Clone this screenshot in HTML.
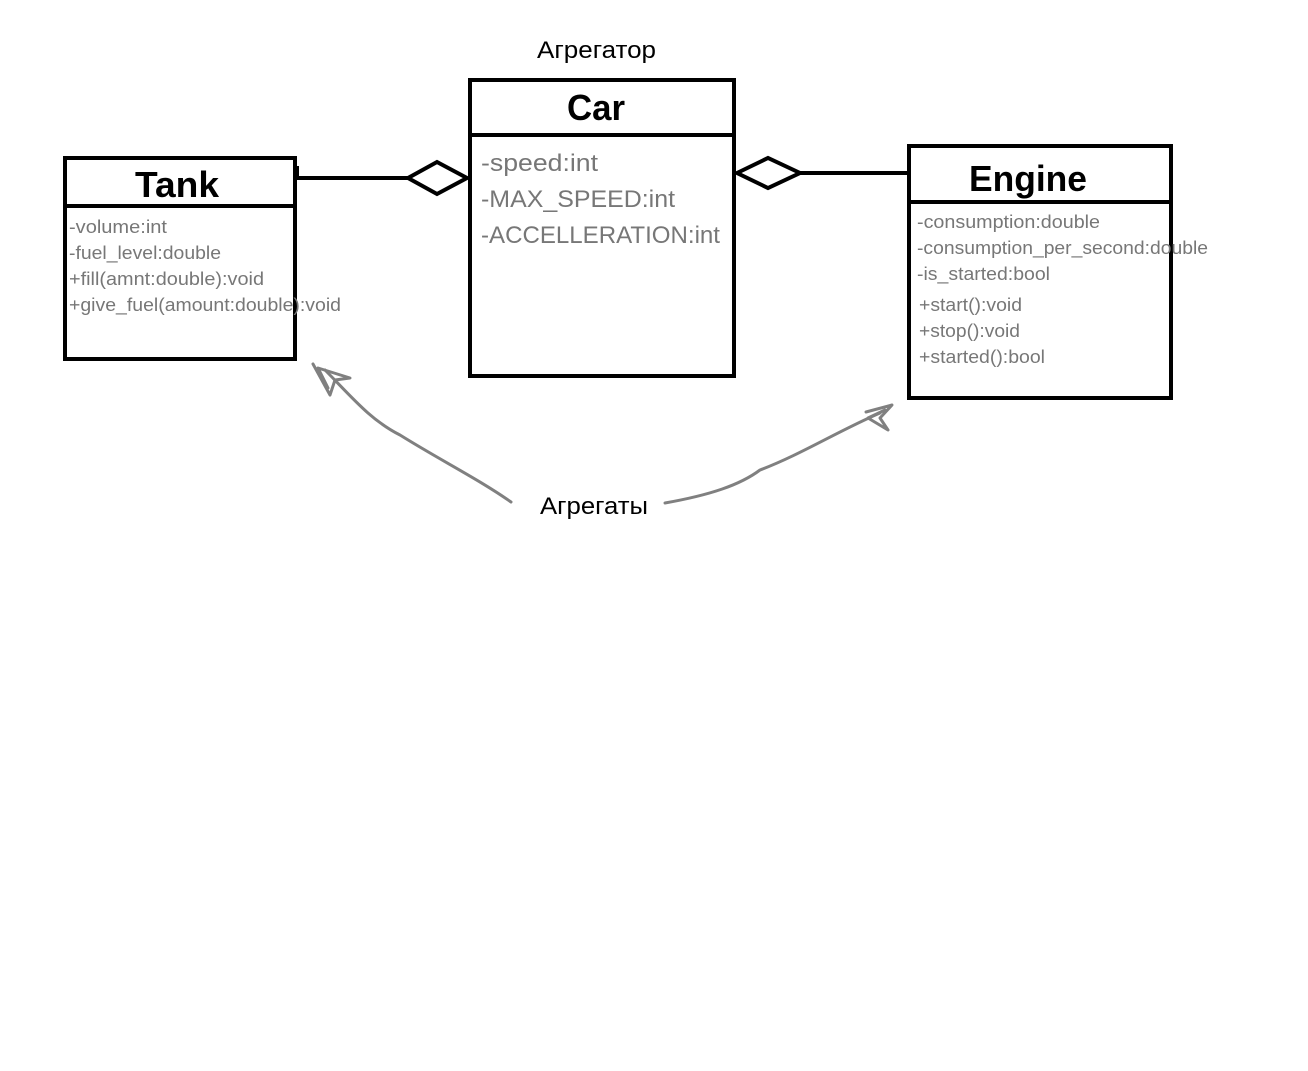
<!DOCTYPE html>
<html><head><meta charset="utf-8"><style>
html,body{margin:0;padding:0;background:#fff;}
svg{display:block}
.t{font-family:"Liberation Sans",sans-serif;font-weight:bold;fill:#000;}
.a{font-family:"Liberation Sans",sans-serif;fill:#777;font-size:18px;}
.c{font-family:"Liberation Sans",sans-serif;fill:#777;font-size:24px;}
.l{font-family:"Liberation Sans","Noto Sans CJK SC",sans-serif;fill:#000;font-size:24px;}
</style></head><body>
<svg width="1308" height="1071" viewBox="0 0 1308 1071" xmlns="http://www.w3.org/2000/svg">
<rect x="0" y="0" width="1308" height="1071" fill="#fff"/>
<g fill="none" stroke="#000" stroke-width="4">
<rect x="65" y="158" width="230" height="201"/>
<line x1="65" y1="206" x2="295" y2="206"/>
<rect x="470" y="80" width="264" height="296"/>
<line x1="470" y1="135" x2="734" y2="135"/>
<rect x="909" y="146" width="262" height="252"/>
<line x1="909" y1="202" x2="1171" y2="202"/>
<line x1="295" y1="178" x2="408" y2="178"/>
<polygon points="408,178 437,162 467,178 437,194"/>
<line x1="800" y1="173" x2="909" y2="173"/>
<polygon points="737,173 768,158 800,173 768,188"/>
<line x1="297" y1="166" x2="297" y2="180"/>
</g>
<text class="t" x="135" y="197" font-size="36" textLength="84" lengthAdjust="spacingAndGlyphs">Tank</text>
<text class="t" x="567" y="120" font-size="36" textLength="58" lengthAdjust="spacingAndGlyphs">Car</text>
<text class="t" x="969" y="191" font-size="36" textLength="118" lengthAdjust="spacingAndGlyphs">Engine</text>
<text class="a" x="69" y="233" textLength="98" lengthAdjust="spacingAndGlyphs">-volume:int</text>
<text class="a" x="69" y="259" textLength="152" lengthAdjust="spacingAndGlyphs">-fuel_level:double</text>
<text class="a" x="69" y="285" textLength="195" lengthAdjust="spacingAndGlyphs">+fill(amnt:double):void</text>
<text class="a" x="69" y="311" textLength="272" lengthAdjust="spacingAndGlyphs">+give_fuel(amount:double):void</text>
<text class="c" x="481" y="171" textLength="117" lengthAdjust="spacingAndGlyphs">-speed:int</text>
<text class="c" x="481" y="207" textLength="194" lengthAdjust="spacingAndGlyphs">-MAX_SPEED:int</text>
<text class="c" x="481" y="243" textLength="239" lengthAdjust="spacingAndGlyphs">-ACCELLERATION:int</text>
<text class="a" x="917" y="228" textLength="183" lengthAdjust="spacingAndGlyphs">-consumption:double</text>
<text class="a" x="917" y="254" textLength="291" lengthAdjust="spacingAndGlyphs">-consumption_per_second:double</text>
<text class="a" x="917" y="280" textLength="133" lengthAdjust="spacingAndGlyphs">-is_started:bool</text>
<text class="a" x="919" y="311" textLength="103" lengthAdjust="spacingAndGlyphs">+start():void</text>
<text class="a" x="919" y="337" textLength="101" lengthAdjust="spacingAndGlyphs">+stop():void</text>
<text class="a" x="919" y="363" textLength="126" lengthAdjust="spacingAndGlyphs">+started():bool</text>
<text class="l" x="537" y="58" textLength="119" lengthAdjust="spacingAndGlyphs">Агрегатор</text>
<text class="l" x="540" y="514" textLength="108" lengthAdjust="spacingAndGlyphs">Агрегаты</text>
<g fill="none" stroke="#808080" stroke-width="3" stroke-linejoin="round" stroke-linecap="round">
<path d="M511,502 C480,480 440,460 400,435 C370,420 350,395 325,370"/>
<path d="M313,364 L330,395 L335,380 L350,378 L318,368 L328,388"/>
<path d="M665,503 C710,495 740,485 760,470 C800,455 840,430 880,413"/>
<path d="M866,412 L892,405 L880,418 L888,430 L868,418 L885,410"/>
</g>
</svg>
</body></html>
